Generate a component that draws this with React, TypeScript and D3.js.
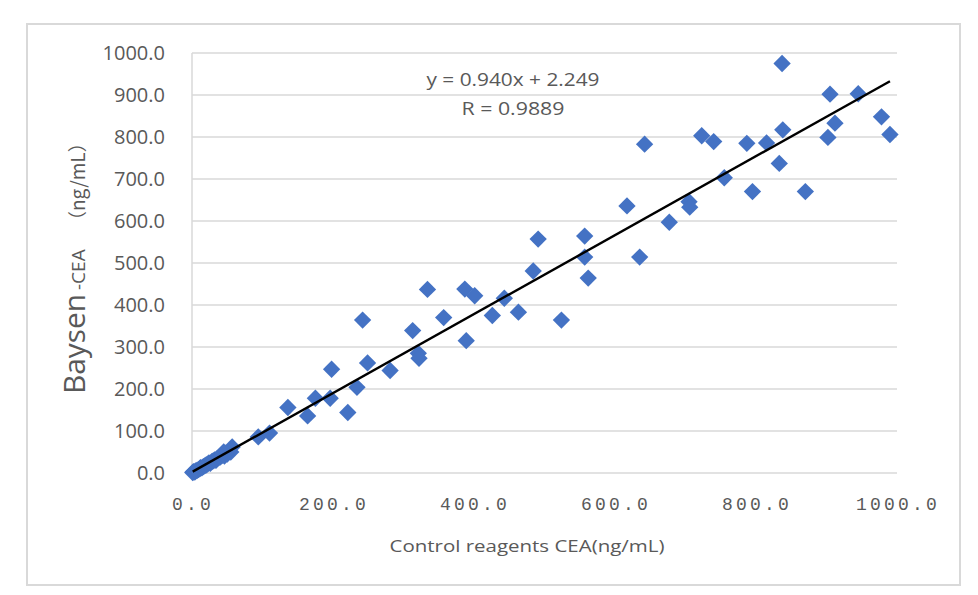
import React from "react";
import * as d3 from "d3";

const xValues: number[] = [
  1, 2, 4, 5, 7, 9, 11, 12, 14, 16, 18, 20, 22, 24, 26, 28, 30, 32, 34, 36, 38, 40, 42, 44, 46, 48, 50, 52, 55, 57, 45,
  94, 110, 136, 164, 175, 196, 221, 234, 198, 242, 249, 281, 313, 321, 322, 334, 357, 387, 389, 401, 426, 443, 463,
  484, 491, 524, 557, 557, 562, 617, 635, 642, 677, 705, 706, 723, 740, 755, 787, 795, 815, 833, 837, 838, 870, 902,
  905, 912, 945, 978, 990,
];
const yValues: number[] = [
  1, 3, 2, 5, 6, 8, 10, 13, 12, 15, 17, 19, 21, 24, 23, 27, 29, 31, 30, 35, 37, 38, 41, 43, 40, 47, 45, 51, 50, 62, 50,
  86, 95, 156, 136, 178, 178, 144, 204, 247, 364, 262, 244, 339, 285, 273, 437, 370, 438, 315, 422, 375, 416, 383,
  481, 557, 364, 564, 514, 464, 636, 514, 783, 597, 646, 633, 803, 789, 703, 785, 670, 786, 737, 975, 817, 670, 799,
  902, 833, 903, 848, 806,
];
const xTicks: number[] = [0, 200, 400, 600, 800, 1000];
const yTicks: number[] = [0, 100, 200, 300, 400, 500, 600, 700, 800, 900, 1000];
const slope = 0.94;
const intercept = 2.249;
const equationText = "y = 0.940x + 2.249";
const rText = "R = 0.9889";
const xTitle = "Control reagents CEA(ng/mL)";

export default function App() {
  const x = d3.scaleLinear().domain([0, 1000]).range([192, 897]);
  const y = d3.scaleLinear().domain([0, 1000]).range([473, 53]);
  const diamond = d3.symbol(d3.symbolSquare, 150)() as string;
  const xMin = d3.min(xValues) as number;
  const xMax = d3.max(xValues) as number;
  const line = d3
    .line<number>()
    .x((v) => x(v))
    .y((v) => y(slope * v + intercept));
  const grey = "#595959";
  return (
    <svg width={978} height={595} style={{ position: "absolute", left: 0, top: 0, background: "#fff" }}>
      <rect x={0} y={0} width={978} height={595} fill="#fff" />
      <rect x={27} y={24} width={933} height={561} fill="none" stroke="#d9d9d9" strokeWidth={2} />
      {yTicks.map((t) => (
        <line key={"g" + t} x1={x(0)} x2={x(1000)} y1={y(t)} y2={y(t)} stroke="#d9d9d9" strokeWidth={1.5} />
      ))}
      <line x1={x(0)} x2={x(0)} y1={y(0)} y2={y(1000)} stroke="#d9d9d9" strokeWidth={1.5} />
      {yTicks.map((t) => (
        <text
          key={"yl" + t}
          x={165}
          y={y(t)}
          dy="0.35em"
          textAnchor="end"
          fontFamily="'Open Sans', sans-serif"
          fontSize={20}
          fill={grey}
        >
          {t.toFixed(1)}
        </text>
      ))}
      {xTicks.map((t) => (
        <text
          key={"xl" + t}
          x={x(t) + 1}
          y={510}
          textAnchor="middle"
          fontFamily="'Liberation Mono', monospace"
          fontSize={18}
          letterSpacing={3.2}
          fill={grey}
        >
          {t.toFixed(1)}
        </text>
      ))}
      <text
        x={527}
        y={552}
        textAnchor="middle"
        fontFamily="'Open Sans', sans-serif"
        fontSize={17}
        textLength={275}
        lengthAdjust="spacingAndGlyphs"
        fill={grey}
      >
        {xTitle}
      </text>
      <g fill={grey} fontFamily="'Open Sans', sans-serif">
        <text transform="translate(85,394) rotate(-90)" fontSize={29} textLength={100} lengthAdjust="spacingAndGlyphs">
          Baysen
        </text>
        <text transform="translate(85,290) rotate(-90)" fontSize={19}>
          -CEA
        </text>
        <text transform="translate(85,230) rotate(-90)" fontSize={19} fontFamily="'Noto Sans CJK SC', sans-serif">
          （ng/mL）
        </text>
      </g>
      {xValues.map((xv, i) => (
        <path
          key={"p" + i}
          d={diamond}
          transform={`translate(${x(xv)},${y(yValues[i])}) rotate(45)`}
          fill="#4472C4"
        />
      ))}
      <path d={line([xMin, xMax]) as string} stroke="#000" strokeWidth={2.4} fill="none" />
      <text x={513} y={86} textAnchor="middle" fontFamily="'Open Sans', sans-serif" fontSize={18} textLength={173} lengthAdjust="spacingAndGlyphs" fill={grey}>
        {equationText}
      </text>
      <text x={513} y={115} textAnchor="middle" fontFamily="'Open Sans', sans-serif" fontSize={18} textLength={103} lengthAdjust="spacingAndGlyphs" fill={grey}>
        {rText}
      </text>
    </svg>
  );
}
